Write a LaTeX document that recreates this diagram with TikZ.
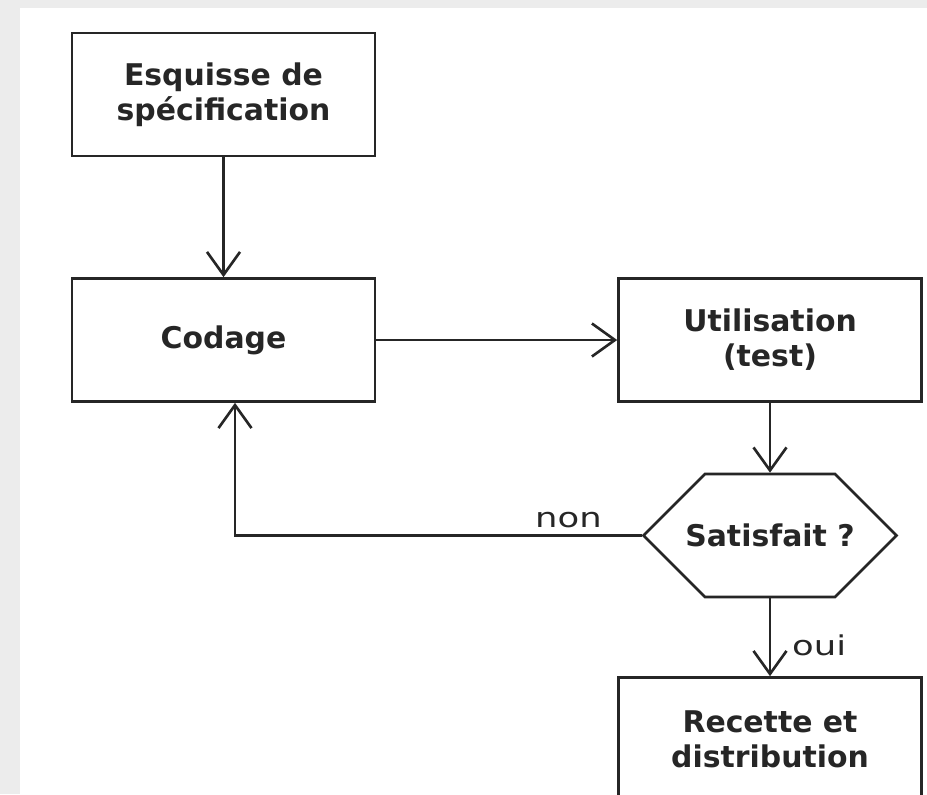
\documentclass[tikz,border=0pt]{standalone}
\usepackage{fontspec}
\setmainfont{DejaVu Sans}
\newfontfamily\lblfont[FakeStretch=1.3]{DejaVu Sans}
\usetikzlibrary{arrows.meta,positioning,shapes.symbols}

\begin{document}
\begin{tikzpicture}[->,>={Straight Barb[length=0.46cm,width=0.66cm]},line width=1.5pt,color=black!85,
  main node/.style={rectangle,draw,minimum width=6.06cm,minimum height=2.46cm,align=center,
    font=\fontsize{17}{20}\selectfont\bfseries},
  test node/.style={signal,signal to=west and east,signal pointer angle=90,draw,
    minimum width=0pt,inner xsep=1.3cm,minimum height=2.46cm,font=\fontsize{17}{20}\selectfont\bfseries},
  lbl/.style={font=\lblfont\fontsize{15.5}{18}\selectfont}]

  \clip (0,0) rectangle (18.54,-15.88);
  \fill[gray!15] (0,0) rectangle (18.54,-15.88);
  \fill[white] (0.4,-0.16) rectangle (18.54,-15.88);

  \node[main node] (1) at (4.47,-1.89) {Esquisse de\\spécification};
  \node[main node] (2) [below of=1,node distance=4.91cm] {Codage};
  \node[main node] (3) [right of=2,node distance=10.93cm] {Utilisation\\(test)};
  \node[test node] (4) [below of=3,node distance=3.91cm] {\makebox[0pt]{Satisfait ?}};
  \node[main node] (5) [below of=4,node distance=4.07cm] {Recette et\\distribution};

  \path
    (1) edge (2)
    (2) edge (3)
    (3) edge (4)
    (4) edge node[lbl,right=0.3cm,pos=0.6] {oui} (5);

  \draw (4.west) -| node[lbl,above,pos=0.09] {non} ([xshift=0.23cm]2.south);
\end{tikzpicture}
\end{document}
